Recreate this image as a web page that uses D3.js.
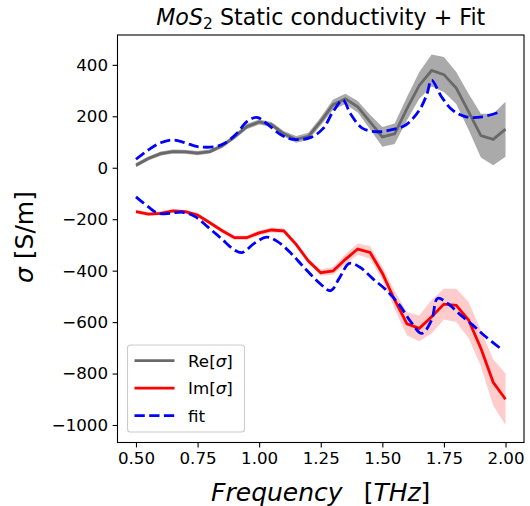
<!DOCTYPE html>
<html>
<head>
<meta charset="utf-8">
<script src="https://cdn.jsdelivr.net/npm/d3@7"></script>
<style>
  body { margin: 0; background: #fff; }
  svg { font-family: "DejaVu Sans", sans-serif; }
</style>
</head>
<body>
<script>
// measured frequencies (THz)
var freq = [0.50, 0.55, 0.60, 0.65, 0.70, 0.75, 0.80, 0.85, 0.90, 0.95,
            1.00, 1.05, 1.10, 1.15, 1.20, 1.25, 1.30, 1.35, 1.40, 1.45,
            1.50, 1.55, 1.60, 1.65, 1.70, 1.75, 1.80, 1.85, 1.90, 1.95, 2.00];

var reSigma = [10, 36, 55, 63, 62, 57, 63, 85, 120, 160,
               178, 168, 132, 110, 122, 180, 245, 268, 237, 178,
               120, 132, 230, 320, 378, 362, 310, 218, 125, 110, 150];
var reErr = [8, 8, 8, 8, 8, 8, 8, 8, 9, 10,
             10, 10, 11, 13, 14, 16, 20, 20, 22, 28,
             38, 40, 45, 52, 62, 68, 62, 70, 85, 100, 107];

var imSigma = [-171, -180, -177, -168, -171, -184, -214, -245, -272, -272,
               -253, -242, -245, -298, -363, -408, -401, -356, -316, -329,
               -410, -514, -607, -624, -579, -530, -535, -592, -702, -834, -900];
var imErr = [8, 8, 8, 8, 8, 8, 8, 9, 9, 9,
             10, 10, 10, 10, 10, 12, 15, 20, 22, 25,
             25, 35, 45, 50, 65, 60, 65, 70, 70, 90, 100];

// fit curves
var fitReFreq = [0.50, 0.55, 0.60, 0.65, 0.70, 0.75, 0.82, 0.86, 0.91, 0.95, 0.99, 1.03,
                 1.09, 1.14, 1.21, 1.26, 1.30, 1.34, 1.37, 1.42, 1.48, 1.535, 1.595,
                 1.65, 1.68, 1.70, 1.74, 1.785, 1.84, 1.906, 1.98];
var fitRe = [33, 69, 97, 108, 97, 82, 82, 95, 134, 179, 196, 172,
             127, 110, 118, 153, 218, 263, 211, 153, 140, 147, 166,
             224, 283, 341, 276, 224, 198, 198, 218];

var fitImFreq = [0.50, 0.55, 0.59, 0.64, 0.69, 0.74, 0.79, 0.845, 0.90, 0.93, 0.98, 1.03,
                 1.075, 1.13, 1.18, 1.25, 1.29, 1.325, 1.366, 1.406, 1.46, 1.515, 1.57,
                 1.615, 1.66, 1.70, 1.724, 1.765, 1.81, 1.866, 1.92, 1.987];
var fitIm = [-113, -152, -177, -177, -173, -190, -229, -274, -320, -330, -294, -270,
             -287, -333, -385, -453, -478, -430, -372, -385, -430, -475, -534,
             -598, -644, -592, -508, -527, -566, -611, -657, -708];

var xTicks = [0.50, 0.75, 1.00, 1.25, 1.50, 1.75, 2.00];
var yTicks = [400, 200, 0, -200, -400, -600, -800, -1000];

var width = 530, height = 506;
var plot = { left: 117.5, right: 524, top: 35, bottom: 442.5 };

var svg = d3.select('body').append('svg')
    .attr('width', width)
    .attr('height', height);

var x = d3.scaleLinear().domain([0.425, 2.075]).range([plot.left, plot.right]);
var y = d3.scaleLinear().domain([-1068, 516]).range([plot.bottom, plot.top]);

var clip = svg.append('clipPath').attr('id', 'clip')
    .append('rect')
    .attr('x', plot.left).attr('y', plot.top)
    .attr('width', plot.right - plot.left).attr('height', plot.bottom - plot.top);

var g = svg.append('g').attr('clip-path', 'url(#clip)');

var band = function(vals, errs) {
    return d3.area()
        .x((d, i) => x(freq[i]))
        .y0((d, i) => y(vals[i] - errs[i]))
        .y1((d, i) => y(vals[i] + errs[i]));
};
var line = d3.line().x((d, i) => x(freq[i])).y(d => y(d));

// bands then lines
g.append('path').datum(reSigma)
    .attr('d', band(reSigma, reErr))
    .attr('fill', '#aaaaaa');
g.append('path').datum(reSigma)
    .attr('d', line)
    .attr('fill', 'none').attr('stroke', 'dimgray').attr('stroke-width', 2.8);

g.append('path').datum(imSigma)
    .attr('d', band(imSigma, imErr))
    .attr('fill', 'red').attr('fill-opacity', 0.2);
g.append('path').datum(imSigma)
    .attr('d', line)
    .attr('fill', 'none').attr('stroke', 'red').attr('stroke-width', 2.8);

var fitLine = function(fs) {
    return d3.line().x((d, i) => x(fs[i])).y(d => y(d)).curve(d3.curveCatmullRom);
};
[[fitReFreq, fitRe], [fitImFreq, fitIm]].forEach(function(p) {
    g.append('path').datum(p[1])
        .attr('d', fitLine(p[0]))
        .attr('fill', 'none').attr('stroke', 'blue')
        .attr('stroke-width', 2.8).attr('stroke-dasharray', '10.3 4.4');
});

// axes
var xAxis = svg.append('g')
    .attr('transform', `translate(0, ${plot.bottom})`)
    .call(d3.axisBottom(x).tickValues(xTicks).tickFormat(d3.format('.2f')).tickSize(4.9).tickPadding(4.5));
var yAxis = svg.append('g')
    .attr('transform', `translate(${plot.left}, 0)`)
    .call(d3.axisLeft(y).tickValues(yTicks).tickFormat(d => d < 0 ? '\u2212' + Math.abs(d) : d).tickSize(4.9).tickPadding(4.5));
[xAxis, yAxis].forEach(function(a) {
    a.select('.domain').remove();
    a.selectAll('text').attr('font-size', 16.7).attr('fill', '#000').attr('font-family', 'DejaVu Sans');
    a.selectAll('line').attr('stroke', '#000').attr('stroke-width', 1.1);
});

svg.append('rect')
    .attr('x', plot.left).attr('y', plot.top)
    .attr('width', plot.right - plot.left).attr('height', plot.bottom - plot.top)
    .attr('fill', 'none').attr('stroke', '#000').attr('stroke-width', 1.1);

// title
var title = svg.append('text')
    .attr('x', (plot.left + plot.right) / 2).attr('y', 25)
    .attr('text-anchor', 'middle').attr('font-size', 22.2);
title.append('tspan').attr('font-style', 'italic').text('MoS');
title.append('tspan').attr('font-size', 15.5).attr('dy', 4).text('2');
title.append('tspan').attr('dy', -4).text(' Static conductivity + Fit');

// x label
var xl = svg.append('text')
    .attr('x', (plot.left + plot.right) / 2).attr('y', 501)
    .attr('text-anchor', 'middle').attr('font-size', 25);
xl.append('tspan').attr('font-style', 'italic').text('Frequency');
xl.append('tspan').attr('dx', 21).text('[');
xl.append('tspan').attr('font-style', 'italic').text('THz');
xl.append('tspan').text(']');

// y label
var yl = svg.append('text')
    .attr('transform', 'translate(33, 237) rotate(-90)')
    .attr('text-anchor', 'middle').attr('font-size', 25);
yl.append('tspan').attr('font-style', 'italic').text('\u03c3');
yl.append('tspan').text(' [S/m]');

// legend
var legend = svg.append('g');
legend.append('rect')
    .attr('x', 127.5).attr('y', 345).attr('width', 117).attr('height', 87)
    .attr('rx', 3).attr('fill', '#fff').attr('fill-opacity', 0.8)
    .attr('stroke', '#cccccc').attr('stroke-width', 1.1);
var entries = [
    { name: 'Re', color: 'dimgray', dash: null, sigma: true },
    { name: 'Im', color: 'red', dash: null, sigma: true },
    { name: 'fit', color: 'blue', dash: '10.3 4.4', sigma: false }
];
entries.forEach(function(e, i) {
    var cy = 360.7 + i * 27.5;
    legend.append('line')
        .attr('x1', 134.5).attr('x2', 174.5).attr('y1', cy).attr('y2', cy)
        .attr('stroke', e.color).attr('stroke-width', 2.8)
        .attr('stroke-dasharray', e.dash);
    var t = legend.append('text').attr('x', 188).attr('y', cy + 6).attr('font-size', 16.7);
    t.append('tspan').text(e.name);
    if (e.sigma) {
        t.append('tspan').text('[');
        t.append('tspan').attr('font-style', 'italic').text('\u03c3');
        t.append('tspan').text(']');
    }
});
</script>
</body>
</html>
